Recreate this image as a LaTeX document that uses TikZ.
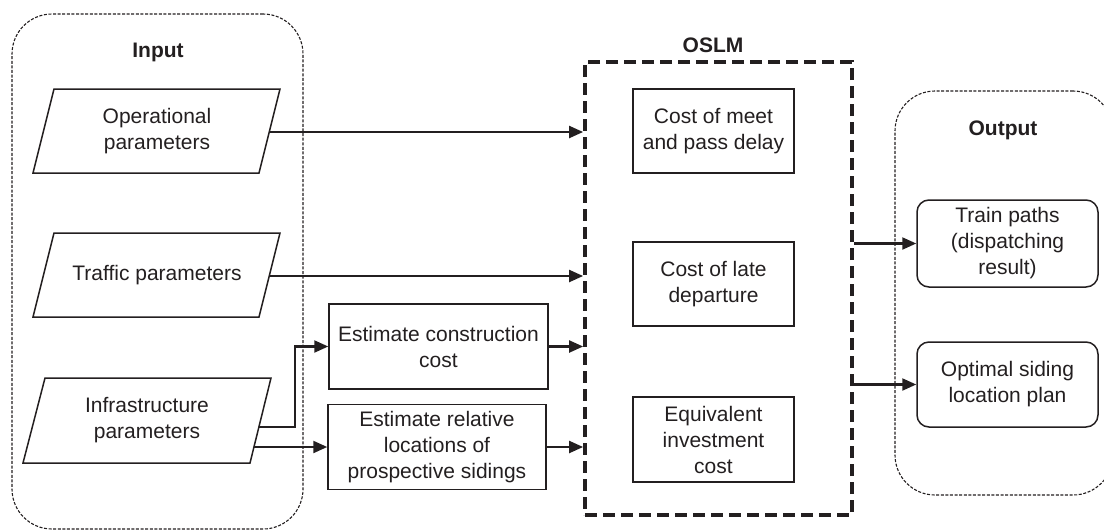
\documentclass[tikz,border=0pt]{standalone}
\usepackage{fontspec}
\setmainfont{Liberation Sans}
\usetikzlibrary{arrows.meta,calc}
\definecolor{ink}{RGB}{35,31,32}
\begin{document}
\begin{tikzpicture}[x=1pt,y=-1pt,
  font=\fontsize{21}{26}\selectfont,
  container/.style={draw=ink, line width=1.1pt, dash pattern=on 3pt off 1.6pt, rounded corners=40pt, inner sep=0},
  box/.style={draw=ink, line width=1.5pt, align=center, text=ink, inner sep=0, line join=miter},
  rbox/.style={box, rounded corners=12pt},
  txt/.style={align=center, text=ink, inner sep=0},
  title/.style={text=ink, font=\fontsize{21}{26}\selectfont\bfseries, inner sep=0},
  arr/.style={draw=ink, line width=2.2pt, -{Triangle[length=14pt,width=12pt]}},
  oslmbox/.style={draw=ink, line width=3.8pt, dash pattern=on 12pt off 6pt, inner sep=0}]
\useasboundingbox (0,0) rectangle (1104,531);

% containers
\node[container, minimum width=291pt, minimum height=515pt] (input) at (157.5,271.5) {};
\node[title] (inputlbl) at (158,52) {Input};
\node[container, minimum width=218pt, minimum height=404pt] (output) at (1004,293) {};
\node[title] (outputlbl) at (1003,130) {Output};
\node[oslmbox, minimum width=267pt, minimum height=453pt] (oslm) at (718.5,288.5) {};
\node[title] (oslmlbl) at (713,45) {OSLM};

% input parallelograms
\draw[box] (33,173) -- (259,173) -- (280,89) -- (54,89) -- cycle;
\node[txt] (op) at (157,131) {Operational\\parameters};
\draw[box] (33,317) -- (259,317) -- (280,233) -- (54,233) -- cycle;
\node[txt] (tr) at (157,275) {Traffic parameters};
\draw[box] (23,463) -- (250,463) -- (271,378) -- (45,378) -- cycle;
\node[txt] (inf) at (147,420) {Infrastructure\\parameters};
\coordinate (op-out) at (269.5,132);
\coordinate (tr-out) at (269.5,276);
\coordinate (inf-o1) at (259,427);
\coordinate (inf-o2) at (254,447);

% estimate boxes
\node[box, minimum width=219pt, minimum height=85pt] (ecc) at (438.5,346.5) {Estimate construction\\cost};
\node[box, minimum width=218pt, minimum height=85pt] (erl) at (437,447) {Estimate relative\\locations of\\prospective sidings};

% OSLM inner boxes
\node[box, minimum width=161pt, minimum height=84pt] (meet) at (713.5,131) {Cost of meet\\and pass delay};
\node[box, minimum width=161pt, minimum height=84pt] (late) at (713.5,284) {Cost of late\\departure};
\node[box, minimum width=161pt, minimum height=85pt] (equiv) at (713.5,439.5) {Equivalent\\investment\\cost};

% output boxes
\node[rbox, minimum width=181pt, minimum height=87pt] (tp) at (1007.5,243.5) {Train paths\\(dispatching\\result)};
\node[rbox, minimum width=181pt, minimum height=85pt] (osl) at (1007.5,384.5) {Optimal siding\\location plan};

% connectors
\draw[arr] (op-out) -- (op-out -| oslm.west);
\draw[arr] (tr-out) -- (tr-out -| oslm.west);
\draw[arr] (inf-o1) -- ++(36,0) |- (ecc.west);
\draw[arr] (inf-o2) -- (inf-o2 -| erl.west);
\draw[arr] (ecc.east) -- (ecc.east -| oslm.west);
\draw[arr] (erl.east) -- (erl.east -| oslm.west);
\draw[arr] (tp.west -| oslm.east) -- (tp.west);
\draw[arr] (osl.west -| oslm.east) -- (osl.west);
\end{tikzpicture}
\end{document}
